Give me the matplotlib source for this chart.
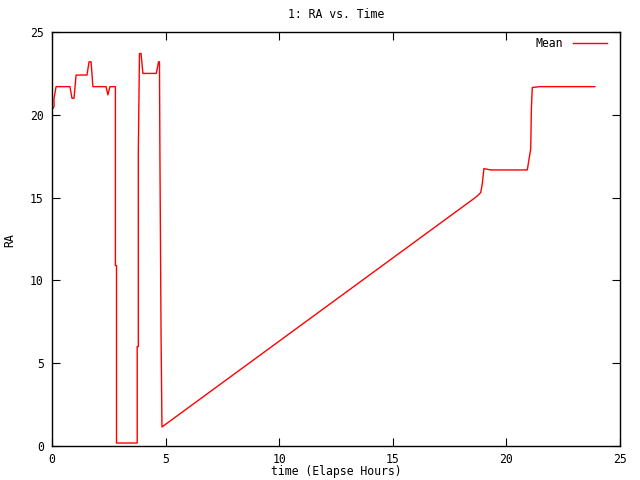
import matplotlib

matplotlib.use("Agg")
import matplotlib.pyplot as plt

# values (elapsed hours, RA in hours)
time_h = [
    0.00, 0.09, 0.09, 0.18, 0.79, 0.88, 0.97, 1.06, 1.54, 1.63, 1.72, 1.80,
    2.38, 2.46, 2.55, 2.79, 2.79, 2.84, 2.84, 3.75, 3.75, 3.80, 3.80, 3.85,
    3.92, 4.00, 4.59, 4.69, 4.73, 4.75, 4.80, 4.84, 18.65, 18.87,
    18.94, 19.01, 19.31, 20.92, 21.07, 21.10, 21.14, 21.48, 23.89,
]
ra = [
    20.3, 20.5, 21.0, 21.7, 21.7, 21.0, 21.0, 22.4, 22.4, 23.2, 23.2, 21.7,
    21.7, 21.2, 21.7, 21.7, 10.9, 10.9, 0.18, 0.18, 6.0, 6.0, 17.8, 23.7,
    23.7, 22.5, 22.5, 23.2, 23.2, 17.6, 6.7, 1.15, 15.02, 15.3,
    15.85, 16.75, 16.67, 16.67, 17.95, 20.4, 21.65, 21.7, 21.7,
]

x_ticks = [0, 5, 10, 15, 20, 25]
y_ticks = [0, 5, 10, 15, 20, 25]

plt.rcParams.update(
    {
        "font.family": "DejaVu Sans Mono",
        "font.size": 8.3,
        "xtick.direction": "in",
        "ytick.direction": "in",
        "xtick.major.size": 6,
        "ytick.major.size": 6,
        "xtick.top": True,
        "ytick.right": True,
        "axes.linewidth": 1.0,
    }
)

fig = plt.figure(figsize=(6.4, 4.8), dpi=100)
ax = fig.add_axes([52 / 640, 34 / 480, 568 / 640, 414 / 480])

ax.plot(time_h, ra, color="#ff0000", lw=1.0, label="Mean")

ax.set_xlim(0, 25)
ax.set_ylim(0, 25)
ax.set_xticks(x_ticks)
ax.set_yticks(y_ticks)
ax.tick_params(axis="x", pad=5, labeltop=False)
ax.tick_params(axis="y", pad=6, labelright=False)

# gnuplot-style labels placed at fixed pixel spots
fig.text(0.5 * (52 + 620) / 640, (480 - 15) / 480, "1: RA vs. Time", ha="center", va="center")
fig.text(0.5 * (52 + 620) / 640, (480 - 472) / 480, "time (Elapse Hours)", ha="center", va="center")
fig.text(10 / 640, 0.5, "RA", rotation=90, ha="center", va="center")

leg = ax.legend(
    loc="upper right",
    bbox_to_anchor=(1 - 6 / 568, 1 + 2 / 414),
    frameon=False,
    markerfirst=False,
    handlelength=3.0,
    handletextpad=0.8,
    borderaxespad=0.2,
)

fig.savefig("out.png", dpi=100)
